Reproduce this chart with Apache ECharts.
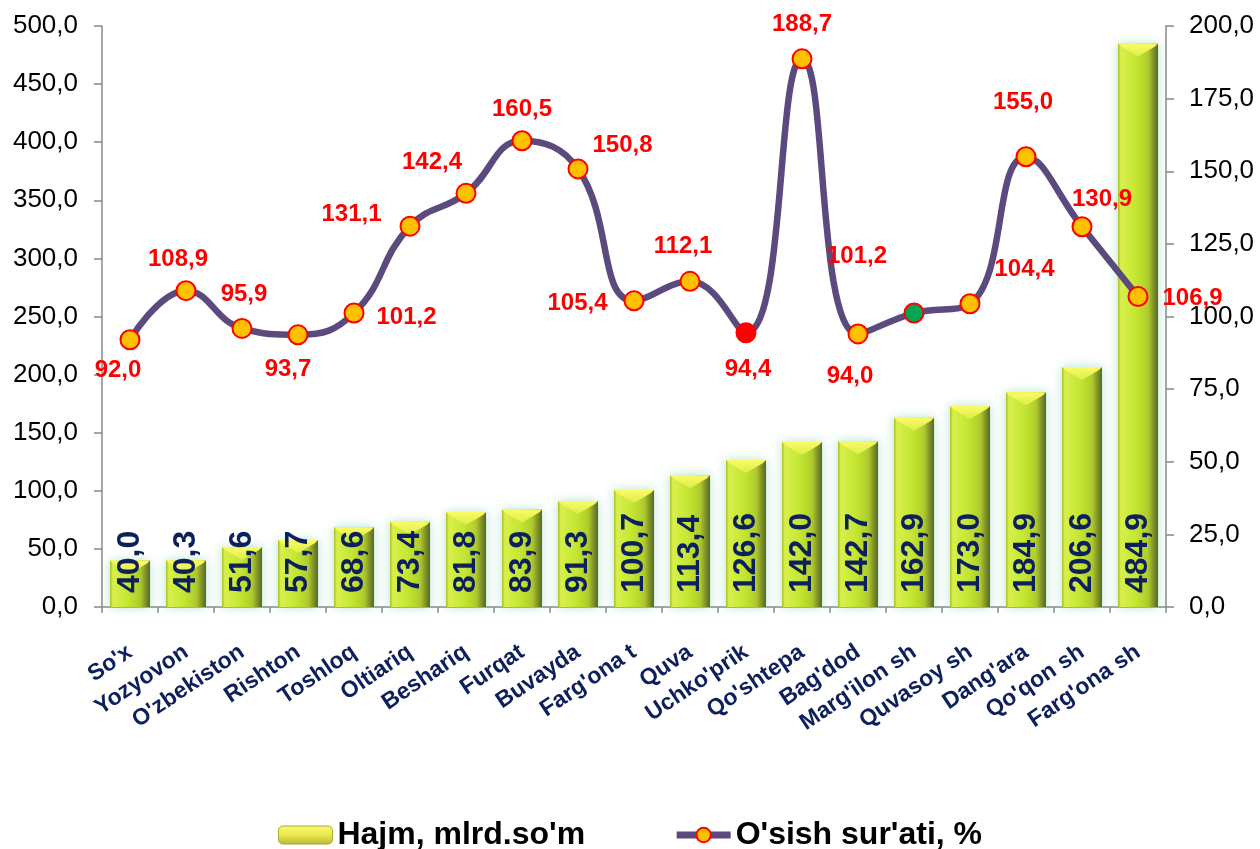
<!DOCTYPE html>
<html><head><meta charset="utf-8">
<script src="https://cdn.jsdelivr.net/npm/echarts@6/dist/echarts.min.js"></script>
<style>html,body{margin:0;padding:0;background:#fff}#c{width:1260px;height:849px}</style>
</head><body><div id="c"></div>
<script>
const categories = ["So'x","Yozyovon","O'zbekiston","Rishton","Toshloq","Oltiariq","Beshariq","Furqat","Buvayda","Farg'ona t","Quva","Uchko'prik","Qo'shtepa","Bag'dod","Marg'ilon sh","Quvasoy sh","Dang'ara","Qo'qon sh","Farg'ona sh"];
const volume = [40.0,40.3,51.6,57.7,68.6,73.4,81.8,83.9,91.3,100.7,113.4,126.6,142.0,142.7,162.9,173.0,184.9,206.6,484.9];
const growth = [92.0,108.9,95.9,93.7,101.2,131.1,142.4,160.5,150.8,105.4,112.1,94.4,188.7,94.0,101.2,104.4,155.0,130.9,106.9];
const seriesNames = ["Hajm, mlrd.so'm", "O'sish sur'ati, %"];

// label placement per point (layout only)
const labelPlace = [
  ['bottom',[-12,2]],['top',[-8,-3]],['top',[2,-6]],['bottom',[-10,6]],['right',[6,4]],
  ['left',[-12,-12]],['top',[-34,-2]],['top',[0,-3]],['right',[-2,-24]],['left',[-10,3]],
  ['top',[-7,-6]],['bottom',[2,8]],['top',[0,-6]],['bottom',[-8,14]],['top',[-57,-28]],
  ['right',[8,-34]],['top',[-3,-26]],['top',[20,1]],['right',[8,2]]
];
const specialMarkers = {11:'#FF0000', 14:'#00A651'};

const fmt = v => Number(v).toFixed(1).replace('.', ',');
const FONT = "Arial, 'Liberation Sans', sans-serif";
const BAR_W = 40;

const lineData = growth.map((v,i) => {
  const d = {value: v, label: {position: labelPlace[i][0], offset: labelPlace[i][1]}};
  if (specialMarkers[i]) d.itemStyle = {color: specialMarkers[i]};
  return d;
});

const chart = echarts.init(document.getElementById('c'), null, {renderer:'canvas'});
chart.setOption({
  backgroundColor: '#ffffff',
  animation: false,
  textStyle: {fontFamily: FONT},
  grid: {left: 102, right: 94, top: 26, bottom: 242, containLabel: false},
  legend: {
    top: 814, left: 'center', itemGap: 88, itemWidth: 54, itemHeight: 18,
    textStyle: {fontSize: 32, fontWeight: 'bold', color: '#000', fontFamily: FONT},
    data: [
      {name: seriesNames[0], itemStyle: {color: new echarts.graphic.LinearGradient(0,0,0,1,[
        {offset:0,color:'#fbfb70'},{offset:0.5,color:'#e8e850'},{offset:1,color:'#b8b838'}]), borderColor: '#a8a830', borderWidth: 1}},
      {name: seriesNames[1], lineStyle: {color: '#5B4A7E', width: 7},
       itemStyle: {color: '#FFC000', borderColor: '#FF0000', borderWidth: 2}}
    ]
  },
  xAxis: {
    type: 'category', data: categories,
    axisLine: {lineStyle: {color: '#888', width: 1.5}},
    axisTick: {show: true, length: 6, lineStyle: {color: '#888', width: 1.5}},
    axisLabel: {interval: 0, rotate: 34, margin: 43, fontSize: 23, fontWeight: 'bold', color: '#0D1F5C', fontFamily: FONT}
  },
  yAxis: [
    {type: 'value', min: 0, max: 500, interval: 50,
     axisLine: {show: true, lineStyle: {color: '#888', width: 1.5}},
     axisTick: {show: true, length: 8, lineStyle: {color: '#888', width: 1.5}},
     splitLine: {show: false},
     axisLabel: {formatter: fmt, fontSize: 26, color: '#000', margin: 24, fontFamily: FONT}},
    {type: 'value', min: 0, max: 200, interval: 25, position: 'right',
     axisLine: {show: true, lineStyle: {color: '#888', width: 1.5}},
     axisTick: {show: true, length: 8, lineStyle: {color: '#888', width: 1.5}},
     splitLine: {show: false},
     axisLabel: {formatter: fmt, fontSize: 26, color: '#000', margin: 23, fontFamily: FONT}}
  ],
  series: [
    {
      name: seriesNames[0], type: 'bar', data: volume, barWidth: BAR_W, z: 2,
      itemStyle: {
        color: new echarts.graphic.LinearGradient(0,0,1,0,[
          {offset:0, color:'#a6bc22'},
          {offset:0.07, color:'#d8f04c'},
          {offset:0.45, color:'#c4e632'},
          {offset:0.75, color:'#b0cc2c'},
          {offset:1, color:'#5a6626'}
        ]),
        shadowColor: 'rgba(110,205,165,0.55)', shadowBlur: 10
      }
    },
    {
      // bevel top + value labels, drawn over the bars using the same scales
      type: 'custom', name: 'bevel', z: 3, silent: true,
      data: volume.map((v,i) => [i, v]),
      encode: {x: 0, y: 1},
      renderItem: (params, api) => {
        const top = api.coord([api.value(0), api.value(1)]);
        const base = api.coord([api.value(0), 0]);
        const x0 = top[0] - BAR_W/2, x1 = top[0] + BAR_W/2, y0 = top[1];
        const b = 13;
        return {type: 'group', children: [
          {type: 'polygon', shape: {points: [[x0,y0],[x1,y0],[x1-3,y0+3],[top[0],y0+b],[x0+3,y0+3]]},
           style: {fill: new echarts.graphic.LinearGradient(0,0,0,1,[
             {offset:0,color:'#fbfb66'},{offset:1,color:'#dcee48'}])}},
          {type: 'text', x: top[0], y: base[1] - 14, rotation: Math.PI/2,
           style: {text: fmt(api.value(1)), fill: '#0D1F5C', font: "bold 32px " + FONT,
                   align: 'left', verticalAlign: 'middle'}}
        ]};
      }
    },
    {
      name: seriesNames[1], type: 'line', yAxisIndex: 1, data: lineData, z: 5,
      smooth: 0.45, symbol: 'circle', symbolSize: 19,
      lineStyle: {color: '#5B4A7E', width: 6.5},
      itemStyle: {color: '#FFC000', borderColor: '#FF0000', borderWidth: 2},
      label: {show: true, formatter: p => fmt(p.value), fontSize: 24, fontWeight: 'bold', color: '#FF0000', distance: 6, fontFamily: FONT}
    }
  ]
});
</script></body></html>
